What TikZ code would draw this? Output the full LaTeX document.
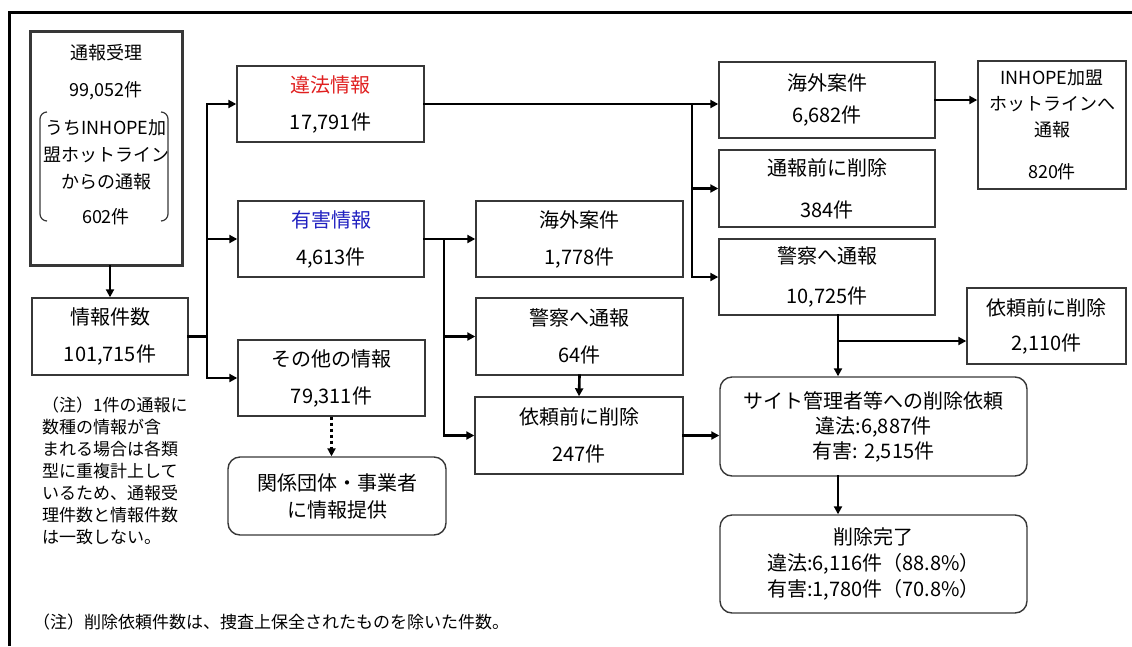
\documentclass[tikz,border=0pt]{standalone}
\usepackage{fontspec}
\setmainfont{Noto Sans CJK JP}
\usepackage{xcolor}
\usetikzlibrary{arrows.meta,calc}
\definecolor{illegal}{RGB}{224,32,32}
\definecolor{harmful}{RGB}{32,32,192}
\definecolor{edge}{RGB}{55,55,55}
\newcommand{\fsz}[2]{\fontsize{#1}{#2}\selectfont}

\begin{document}
\begin{tikzpicture}[x=1pt,y=-1pt,
  box/.style={draw=edge, line width=1.4pt, inner sep=0pt, align=center, font=\fsz{20}{37}},
  rbox/.style={box, rounded corners=12pt},
  conn/.style={line width=2.6pt, line cap=rect},
  arr/.style={conn, -{Triangle[length=8pt,width=8pt]}},
  dotarr/.style={line width=2.6pt, dash pattern=on 3pt off 3pt, -{Triangle[length=8pt,width=8pt]}},
  bracket/.style={line width=1.2pt, draw=edge, rounded corners=7pt},
  note/.style={align=left, anchor=west, inner sep=0pt, font=\fsz{17}{22}}
]
\useasboundingbox (0,0) rectangle (1132,646);
% outer frame (cut at right and bottom)
\draw[line width=3pt] (9,646) -- (9,12) -- (1132,12);

% reports received
\node[box, line width=3pt, minimum width=152pt, minimum height=234pt] (recv) at (106,148) {};
\node[font=\fsz{18}{27}, align=center] (recvtxt) at (106,135)
  {通報受理\\[10pt]99,052件\\[11pt]うちINHOPE加\\盟ホットライン\\からの通報\\[8pt]602件};
\draw[bracket] (47,112) -- (40,112) -- (40,221) -- (47,221);
\draw[bracket] (161,112) -- (168,112) -- (168,221) -- (161,221);

\node[box, minimum width=156pt, minimum height=77pt] (count) at (110,336.5) {情報件数\\101,715件};

% first split
\node[box, minimum width=187pt, minimum height=76pt] (illegal) at (330.5,104) {\textcolor{illegal}{違法情報}\\17,791件};
\node[box, minimum width=186pt, minimum height=76pt] (harmful) at (331,239) {\textcolor{harmful}{有害情報}\\4,613件};
\node[box, minimum width=187pt, minimum height=76pt] (other) at (331.5,378) {その他の情報\\79,311件};
\node[rbox, minimum width=218pt, minimum height=78pt, font=\fsz{20}{27}] (provide) at (337,496) {関係団体・事業者\\に情報提供};

% harmful branch
\node[box, minimum width=207pt, minimum height=76pt] (abroadB) at (579.5,239) {海外案件\\1,778件};
\node[box, minimum width=207pt, minimum height=77pt] (policeB) at (579.5,336.5) {警察へ通報\\64件};
\node[box, minimum width=208pt, minimum height=77pt] (predelB) at (579,435.5) {依頼前に削除\\247件};

% illegal branch
\node[box, minimum width=216pt, minimum height=76pt, font=\fsz{20}{32}] (abroadA) at (827,100) {海外案件\\6,682件};
\node[box, minimum width=216pt, minimum height=77pt, font=\fsz{20}{42}] (predelA) at (827,188.5) {通報前に削除\\384件};
\node[box, minimum width=216pt, minimum height=76pt, font=\fsz{20}{40}] (policeA) at (827,277) {警察へ通報\\10,725件};
\node[box, minimum width=148pt, minimum height=128pt, font=\fsz{18}{26}] (inhope) at (1052,125) {INHOPE加盟\\ホットラインへ\\通報\\[16pt]820件};
\node[box, minimum width=159pt, minimum height=76pt, font=\fsz{20}{35}] (reqdel) at (1046.5,326) {依頼前に削除\\2,110件};

% deletion requests
\node[rbox, minimum width=307pt, minimum height=99pt, font=\fsz{20}{25}] (request) at (873.5,426.5)
  {サイト管理者等への削除依頼\\違法:6,887件\\有害: 2,515件};
\node[rbox, minimum width=307pt, minimum height=98pt, font=\fsz{20}{26}] (done) at (873.5,564)
  {削除完了\\違法:6,116件（88.8\%）\\有害:1,780件（70.8\%）};

% notes
\node[note] (note1) at (42,471) {（注）1件の通報に\\数種の情報が含\\まれる場合は各類\\型に重複計上して\\いるため、通報受\\理件数と情報件数\\は一致しない。};
\node[note] (note2) at (33,622) {（注）削除依頼件数は、捜査上保全されたものを除いた件数。};

% connectors
\draw[arr] (count.north |- recv.south) -- (count.north);
\coordinate (t1) at (207,0);
\draw[conn] (count.east) -- (count.east -| t1);
\draw[conn] (t1 |- illegal.west) -- (t1 |- other.west);
\foreach \n in {illegal,harmful,other}
  \draw[arr] (t1 |- \n.west) -- (\n.west);

\coordinate (t2) at (444,0);
\draw[conn] (harmful.east) -- (harmful.east -| t2);
\draw[conn] (t2 |- abroadB.west) -- (t2 |- predelB.west);
\foreach \n in {abroadB,policeB,predelB}
  \draw[arr] (t2 |- \n.west) -- (\n.west);
\draw[arr] (policeB.south) -- (predelB.north);
\draw[arr] (predelB.east) -- (predelB.east -| request.west);

\draw[arr] (illegal.east) -- (illegal.east -| abroadA.west);
\coordinate (t3) at (692,0);
\draw[conn] (t3 |- illegal.east) -- (t3 |- policeA.west);
\foreach \n in {predelA,policeA}
  \draw[arr] (t3 |- \n.west) -- (\n.west);
\draw[arr] (abroadA.east) -- (abroadA.east -| inhope.west);

\coordinate (t4) at (838,341);
\draw[arr] (policeA.south -| t4) -- (request.north -| t4);
\draw[arr] (t4) -- (t4 -| reqdel.west);
\draw[arr] (request.south -| t4) -- (done.north -| t4);

\draw[dotarr] (other.south) -- (other.south |- provide.north);
\end{tikzpicture}
\end{document}
